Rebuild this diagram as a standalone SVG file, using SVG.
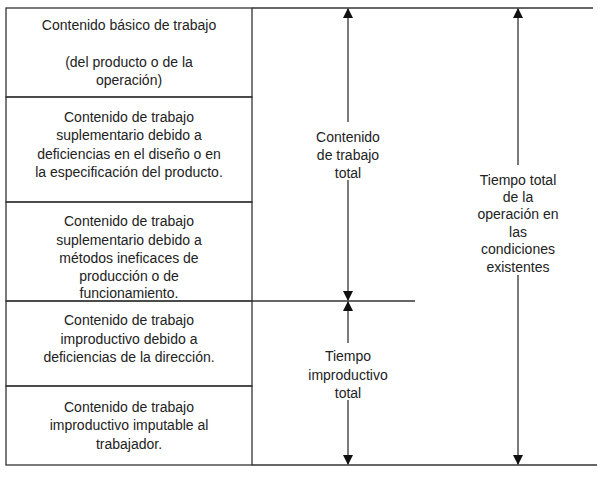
<svg xmlns="http://www.w3.org/2000/svg" width="604" height="480" viewBox="0 0 604 480">
<defs>
<style>
text{font-family:"Liberation Sans",Arial,sans-serif;font-size:14px;fill:#222;text-anchor:middle}
.l{stroke:#333;stroke-width:1.3;fill:none}
</style>
<marker id="a" markerWidth="10" markerHeight="10" refX="9" refY="5" orient="auto" markerUnits="userSpaceOnUse"><path d="M0,0 L10,5 L0,10z" fill="#111"/></marker>
</defs>
<rect width="604" height="480" fill="#fff"/>
<g id="n1"><rect class="l" x="6" y="8" width="246" height="89"/>
<text x="129" y="30">Contenido básico de trabajo</text><text x="129" y="67">(del producto o de la</text><text x="129" y="85">operación)</text></g>
<g id="n2"><rect class="l" x="6" y="97" width="246" height="105"/>
<text x="129" y="122">Contenido de trabajo</text><text x="129" y="140">suplementario debido a</text><text x="129" y="159">deficiencias en el  diseño o en</text><text x="129" y="177">la especificación del producto.</text></g>
<g id="n3"><rect class="l" x="6" y="202" width="246" height="99"/>
<text x="129" y="226">Contenido de trabajo</text><text x="129" y="245">suplementario debido a</text><text x="129" y="263">métodos ineficaces de</text><text x="129" y="281">producción o de</text><text x="129" y="298">funcionamiento.</text></g>
<g id="n4"><rect class="l" x="6" y="301" width="246" height="85"/>
<text x="129" y="325">Contenido de trabajo</text><text x="129" y="344">improductivo debido a</text><text x="129" y="362">deficiencias de la dirección.</text></g>
<g id="n5"><rect class="l" x="6" y="386" width="246" height="79"/>
<text x="129" y="412">Contenido de trabajo</text><text x="129" y="430">improductivo imputable al</text><text x="129" y="449">trabajador.</text></g>
<g id="connectors">
<line class="l" x1="252" y1="8" x2="593" y2="8"/>
<line class="l" x1="252" y1="301" x2="415" y2="301"/>
<line class="l" x1="252" y1="465" x2="597" y2="465"/>
<line class="l" x1="348" y1="122" x2="348" y2="9" marker-end="url(#a)"/>
<line class="l" x1="348" y1="180" x2="348" y2="300" marker-end="url(#a)"/>
<line class="l" x1="518" y1="165" x2="518" y2="9" marker-end="url(#a)"/>
<line class="l" x1="518" y1="275" x2="518" y2="464" marker-end="url(#a)"/>
<line class="l" x1="348" y1="343" x2="348" y2="302" marker-end="url(#a)"/>
<line class="l" x1="348" y1="400" x2="348" y2="464" marker-end="url(#a)"/>
</g>
<g id="labels">
<text x="348" y="142">Contenido</text><text x="348" y="160">de trabajo</text><text x="348" y="178">total</text>
<text x="518" y="185">Tiempo total</text><text x="518" y="202">de la</text><text x="518" y="219">operación en</text><text x="518" y="237">las</text><text x="518" y="254">condiciones</text><text x="518" y="272">existentes</text>
<text x="348" y="361">Tiempo</text><text x="348" y="380">improductivo</text><text x="348" y="398">total</text>
</g>
</svg>
